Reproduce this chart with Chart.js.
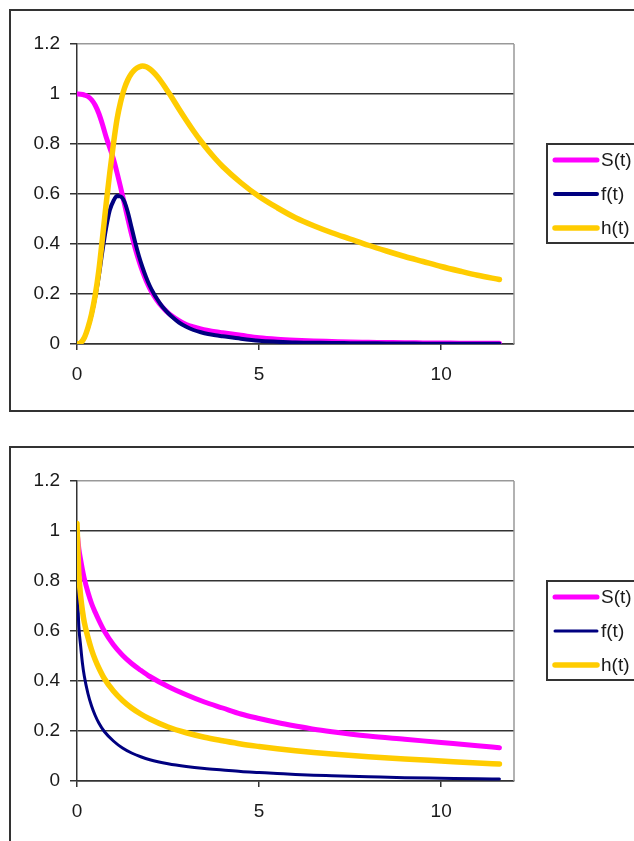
<!DOCTYPE html>
<html>
<head>
<meta charset="utf-8">
<script src="https://cdn.jsdelivr.net/npm/chart.js@4.4.1/dist/chart.umd.min.js"></script>
<style>
  body { margin: 0; background: #fff; overflow: hidden; width: 634px; height: 841px; position: relative; }
  .box { position: absolute; left: 9px; width: 700px; height: 399px; border: 2px solid #333; }
  .box canvas { display: block; }
  #box1 { top: 9px; }
  #box2 { top: 446px; }
</style>
</head>
<body>
<div class="box" id="box1"><canvas id="chart1" width="700" height="399"></canvas></div>
<div class="box" id="box2"><canvas id="chart2" width="700" height="399"></canvas></div>
<script>
// series names (legend)
const seriesNames = ['S(t)', 'f(t)', 'h(t)'];

// top chart, values
const t1 = [0, 0.1, 0.2, 0.3, 0.4, 0.5, 0.6, 0.7, 0.8, 0.9, 1.0, 1.1, 1.2, 1.3, 1.4, 1.5, 1.6, 1.7, 1.8, 1.9, 2.0, 2.1, 2.2, 2.3, 2.4, 2.5, 2.6,
            2.8, 3.0, 3.2, 3.4, 3.6, 3.8, 4.0, 4.5, 5, 5.5, 6, 6.5, 7, 7.5, 8, 8.5, 9, 9.5, 10, 10.5, 11, 11.6];
const S1 = [1.0, 0.999, 0.996, 0.99, 0.977, 0.955, 0.922, 0.878, 0.828, 0.785, 0.74, 0.685, 0.625, 0.562, 0.498, 0.437, 0.382, 0.333, 0.29, 0.253, 0.222, 0.196, 0.174, 0.155, 0.139, 0.125, 0.113,
            0.093, 0.078, 0.068, 0.06, 0.054, 0.049, 0.045, 0.035, 0.025, 0.019, 0.015, 0.012, 0.01, 0.008, 0.007, 0.006, 0.005, 0.0045, 0.004, 0.0035, 0.003, 0.003];
const f1 = [0, 0.005, 0.025, 0.064, 0.117, 0.186, 0.272, 0.373, 0.464, 0.535, 0.572, 0.592, 0.59, 0.57, 0.525, 0.465, 0.405, 0.352, 0.306, 0.266, 0.232, 0.204, 0.18, 0.158, 0.14, 0.124, 0.11,
            0.086, 0.069, 0.056, 0.047, 0.04, 0.035, 0.031, 0.021, 0.013, 0.009, 0.006, 0.005, 0.004, 0.0035, 0.003, 0.0025, 0.002, 0.0015, 0.001, 0.001, 0.001, 0.001];
const h1 = [0, 0.005, 0.025, 0.065, 0.12, 0.195, 0.295, 0.425, 0.56, 0.685, 0.8, 0.9, 0.97, 1.022, 1.058, 1.083, 1.099, 1.108, 1.112, 1.109, 1.1, 1.087, 1.071, 1.052, 1.031, 1.009, 0.987,
            0.94, 0.895, 0.852, 0.812, 0.775, 0.741, 0.71, 0.645, 0.59, 0.545, 0.505, 0.473, 0.445, 0.42, 0.395, 0.372, 0.35, 0.33, 0.31, 0.292, 0.275, 0.258];

// bottom chart
const t2 = [0, 0.05, 0.1, 0.15, 0.2, 0.3, 0.4, 0.5, 0.6, 0.75, 1, 1.25, 1.5, 1.75, 2, 2.5, 3, 3.5, 4, 4.5, 5, 5.5, 6, 6.5, 7, 8, 9, 10, 11, 11.6];
const S2 = [1.0, 0.93, 0.885, 0.845, 0.81, 0.755, 0.71, 0.675, 0.643, 0.6, 0.545, 0.503, 0.47, 0.443, 0.418, 0.378, 0.345, 0.316, 0.292, 0.268, 0.25, 0.234, 0.22, 0.207, 0.197, 0.18, 0.167, 0.154, 0.141, 0.133];
const f2 = [0.8, 0.62, 0.54, 0.47, 0.42, 0.35, 0.3, 0.262, 0.232, 0.198, 0.16, 0.132, 0.112, 0.097, 0.085, 0.069, 0.058, 0.05, 0.044, 0.038, 0.034, 0.03, 0.026, 0.023, 0.021, 0.017, 0.013, 0.011, 0.009, 0.008];
const h2 = [1.03, 0.83, 0.74, 0.68, 0.635, 0.575, 0.525, 0.485, 0.452, 0.41, 0.36, 0.322, 0.292, 0.268, 0.248, 0.216, 0.193, 0.175, 0.161, 0.148, 0.138, 0.129, 0.121, 0.114, 0.108, 0.097, 0.088, 0.08, 0.072, 0.068];

// axis ticks
const xTicks = [0, 5, 10];
const xMax = 12;
const yMax = 1.2;
const yStep = 0.2;

const colors = ['#ff00ff', '#000080', '#ffcc00'];
const fontFamily = '"Liberation Sans", Arial, sans-serif';

Chart.defaults.font.family = fontFamily;
Chart.defaults.font.size = 19;
Chart.defaults.color = '#1a1a1a';

const plotBorder = {
  id: 'plotBorder',
  beforeDatasetsDraw(chart) {
    const a = chart.chartArea, ctx = chart.ctx;
    ctx.save();
    ctx.strokeStyle = '#999';
    ctx.lineWidth = 1.5;
    ctx.beginPath();
    ctx.moveTo(a.right, a.top);
    ctx.lineTo(a.right, a.bottom);
    ctx.stroke();
    ctx.restore();
  }
};

const legendBox = {
  id: 'legendBox',
  afterDraw(chart) {
    const ctx = chart.ctx, a = chart.chartArea;
    const left = a.right + 33, top = a.top + 100;
    ctx.save();
    ctx.strokeStyle = '#333';
    ctx.lineWidth = 2;
    ctx.strokeRect(left, top, 150, 99);
    ctx.font = '19px ' + fontFamily;
    ctx.textBaseline = 'middle';
    chart.data.datasets.forEach((ds, i) => {
      const y = top + 16 + i * 34;
      ctx.strokeStyle = ds.borderColor;
      ctx.lineWidth = ds.borderWidth;
      ctx.lineCap = 'round';
      ctx.beginPath();
      ctx.moveTo(left + 8, y);
      ctx.lineTo(left + 50, y);
      ctx.stroke();
      ctx.fillStyle = '#1a1a1a';
      ctx.fillText(ds.label, left + 54, y + 1);
    });
    ctx.restore();
  }
};

function points(t, v) {
  return t.map((x, i) => ({ x: x, y: v[i] }));
}

function makeChart(id, t, S, f, h, fWidth) {
  const series = [S, f, h];
  const widths = [5, fWidth, 5.5];
  const orders = [2, 1, 0];
  new Chart(document.getElementById(id), {
    type: 'line',
    data: {
      datasets: series.map((v, i) => ({
        label: seriesNames[i],
        data: points(t, v),
        borderColor: colors[i],
        borderWidth: widths[i],
        borderCapStyle: 'round',
        borderJoinStyle: 'round',
        pointRadius: 0,
        cubicInterpolationMode: 'monotone',
        fill: false,
        order: orders[i]
      }))
    },
    options: {
      responsive: false,
      animation: false,
      layout: { padding: { top: 33, right: 197, bottom: 26, left: 0 } },
      plugins: { legend: { display: false }, tooltip: { enabled: false } },
      scales: {
        x: {
          type: 'linear',
          min: 0,
          max: xMax,
          afterBuildTicks: s => { s.ticks = xTicks.map(v => ({ value: v })); },
          afterFit: s => { s.height = 40; },
          ticks: { padding: 13, maxRotation: 0 },
          grid: { drawOnChartArea: false, drawTicks: true, tickLength: 6, tickColor: '#333', lineWidth: 1.5 },
          border: { color: '#333', width: 1.5 }
        },
        y: {
          min: 0,
          max: yMax,
          ticks: { stepSize: yStep, padding: 10, callback: v => String(Math.round(v * 10) / 10) },
          afterFit: s => { s.width = 66; },
          grid: {
            color: c => (c.tick && c.tick.value >= yMax - 0.001) ? '#999' : '#333',
            lineWidth: 1.5,
            tickLength: 7,
            tickColor: '#333'
          },
          border: { color: '#333', width: 1.5 }
        }
      }
    },
    plugins: [plotBorder, legendBox]
  });
}

makeChart('chart1', t1, S1, f1, h1, 4);
makeChart('chart2', t2, S2, f2, h2, 3);
</script>
</body>
</html>
